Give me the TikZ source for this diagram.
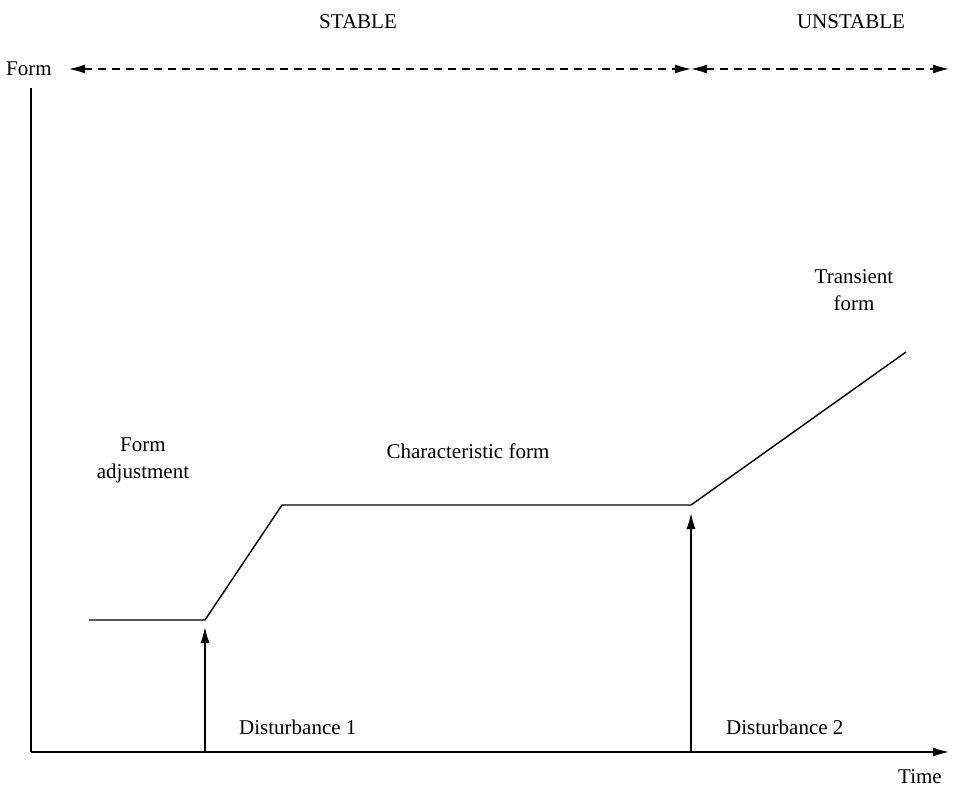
\documentclass[tikz,border=0pt]{standalone}
\usepackage{fontspec}
\setmainfont{Liberation Serif}
\usetikzlibrary{arrows.meta}
\begin{document}
\begin{tikzpicture}[x=1pt,y=-1pt,
  lbl/.style={font=\fontsize{21}{25}\selectfont, inner sep=0pt, align=center},
  ln/.style={line width=1.4pt},
  head/.tip={Latex[length=16pt,width=9pt]},
  tip/.style={-head},
  dashline/.style={ln, dash pattern=on 8pt off 6pt}]
\useasboundingbox (0,0) rectangle (957,789);
% axes
\coordinate (O) at (31,752);
\coordinate (ytop) at (31,88);
\coordinate (xend) at (949,752);
\draw[ln] (ytop) -- (O);
\draw[ln,tip] (O) -- (xend);
\node[lbl, anchor=west] (form) at (6,69) {Form};
\node[lbl] (time) at (920,777) {Time};
% regime ranges
\coordinate (dl) at (69,69);
\coordinate (dm) at (691,69);
\coordinate (dr) at (949,69);
\draw[dashline,head-head] (dl) -- (dm);
\draw[dashline,head-head] (dm) -- (dr);
\node[lbl] (stable) at (358,22) {STABLE};
\node[lbl] (unstable) at (851,22) {UNSTABLE};
% form curve
\coordinate (c0) at (89,620);
\coordinate (c1) at (205,620);
\coordinate (c2) at (282,505);
\coordinate (c3) at (691,505);
\coordinate (c4) at (906,352);
\draw[ln] (c0) -- (c1) -- (c2) -- (c3) -- (c4);
% disturbances
\coordinate (d1b) at (205,752);
\coordinate (d1t) at (205,627);
\coordinate (d2b) at (691,752);
\coordinate (d2t) at (691,513);
\draw[ln,tip] (d1b) -- (d1t);
\draw[ln,tip] (d2b) -- (d2t);
\node[lbl, anchor=west] (dist1) at (239,727) {Disturbance 1};
\node[lbl, anchor=west] (dist2) at (726,727) {Disturbance 2};
% phase labels
\node[lbl] (adj) at (143,460) {Form\\[2pt]adjustment};
\node[lbl] (char) at (468,451) {Characteristic form};
\node[lbl] (trans) at (854,290) {Transient\\[2pt]form};
\end{tikzpicture}
\end{document}
